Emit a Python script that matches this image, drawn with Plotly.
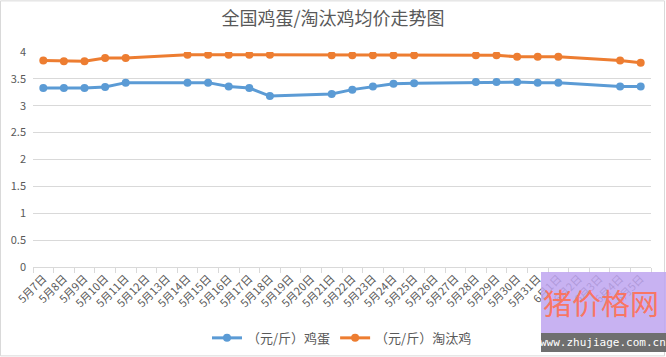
import plotly.graph_objects as go

all_dates = ["5月7日", "5月8日", "5月9日", "5月10日", "5月11日", "5月12日", "5月13日", "5月14日",
             "5月15日", "5月16日", "5月17日", "5月18日", "5月19日", "5月20日", "5月21日", "5月22日",
             "5月23日", "5月24日", "5月25日", "5月26日", "5月27日", "5月28日", "5月29日", "5月30日",
             "5月31日", "6月1日", "6月2日", "6月3日", "6月4日", "6月5日"]

data_dates = ["5月7日", "5月8日", "5月9日", "5月10日", "5月11日", "5月14日", "5月15日", "5月16日",
              "5月17日", "5月18日", "5月21日", "5月22日", "5月23日", "5月24日", "5月25日", "5月28日",
              "5月29日", "5月30日", "5月31日", "6月1日", "6月4日", "6月5日"]

egg = [3.33, 3.33, 3.33, 3.35, 3.43, 3.43, 3.43, 3.36, 3.33, 3.18, 3.22, 3.30, 3.36, 3.41, 3.42,
       3.44, 3.44, 3.44, 3.43, 3.43, 3.36, 3.36]
hen = [3.84, 3.83, 3.83, 3.89, 3.89, 3.95, 3.95, 3.95, 3.95, 3.95, 3.94, 3.94, 3.94, 3.94, 3.94,
       3.94, 3.94, 3.91, 3.91, 3.91, 3.84, 3.80]

y_ticks = [0, 0.5, 1, 1.5, 2, 2.5, 3, 3.5, 4]
y_tick_text = ["0", "0.5", "1", "1.5", "2", "2.5", "3", "3.5", "4"]

FONT = "Noto Sans CJK SC"
GRAY = "#595959"

fig = go.Figure()
fig.add_trace(go.Scatter(x=data_dates, y=egg, name="（元/斤）鸡蛋", mode="lines+markers",
                         line=dict(color="#5B9BD5", width=3), marker=dict(size=8, color="#5B9BD5")))
fig.add_trace(go.Scatter(x=data_dates, y=hen, name="（元/斤）淘汰鸡", mode="lines+markers",
                         line=dict(color="#ED7D31", width=3), marker=dict(size=8, color="#ED7D31")))

L, R, T, B = 33, 651, 51.7, 267
W, H = 666, 357
pw, ph = R - L, B - T


def px(x):
    return (x - L) / pw


def py(y):
    return (B - y) / ph


shapes = [
    dict(type="rect", xref="paper", yref="paper", x0=px(0.5), x1=px(664.5), y0=py(356), y1=py(0.5),
         line=dict(color="#d9d9d9", width=1), fillcolor="rgba(0,0,0,0)", layer="below"),
    dict(type="rect", xref="paper", yref="paper", x0=px(541), x1=px(666), y0=py(333), y1=py(272),
         line=dict(width=0), fillcolor="rgba(190,165,240,0.85)", layer="above"),
    dict(type="rect", xref="paper", yref="paper", x0=px(541), x1=px(666), y0=py(352), y1=py(333),
         line=dict(width=0), fillcolor="#6f6f6f", layer="above"),
]

annotations = [
    dict(text="猪价格网", xref="paper", yref="paper", x=px(601), y=py(302), showarrow=False,
         font=dict(family=FONT, size=29, color="rgba(255,110,80,0.9)"), xanchor="center", yanchor="middle"),
    dict(text="www.zhujiage.com.cn", xref="paper", yref="paper", x=px(603), y=py(342.5), showarrow=False,
         font=dict(family="DejaVu Sans Mono", size=11, color="white"), xanchor="center", yanchor="middle"),
]

fig.update_layout(
    width=W, height=H,
    margin=dict(l=L, r=W - R, t=T, b=H - B, autoexpand=False),
    paper_bgcolor="white", plot_bgcolor="white",
    title=dict(text="全国鸡蛋/淘汰鸡均价走势图", x=0.5, xanchor="center", y=1 - 19 / H, yanchor="middle",
               font=dict(family=FONT, size=18, color=GRAY)),
    font=dict(family=FONT, color=GRAY, size=11),
    xaxis=dict(type="category", categoryorder="array", categoryarray=all_dates, tickvals=all_dates,
               range=[-0.5, len(all_dates) - 0.5], automargin=False,
               tickangle=-45, tickson="boundaries", ticks="outside", ticklen=5, tickcolor="#d9d9d9",
               showline=True, linecolor="#d9d9d9", showgrid=False, tickfont=dict(size=11, color=GRAY)),
    yaxis=dict(range=[0, 4], tickvals=y_ticks, ticktext=y_tick_text, showgrid=True, gridcolor="#d9d9d9",
               automargin=False,
               zeroline=False, showline=False, tickfont=dict(size=11, color=GRAY), ticklabelstandoff=6),
    legend=dict(orientation="h", x=0.5, xanchor="center", y=py(338), yanchor="middle",
                font=dict(size=13, color=GRAY), itemwidth=30),
    shapes=shapes, annotations=annotations,
    showlegend=True,
)

fig.write_html("out.html", config={"displayModeBar": False},
               post_script="document.body.style.margin='0';document.body.style.overflow='hidden';")
